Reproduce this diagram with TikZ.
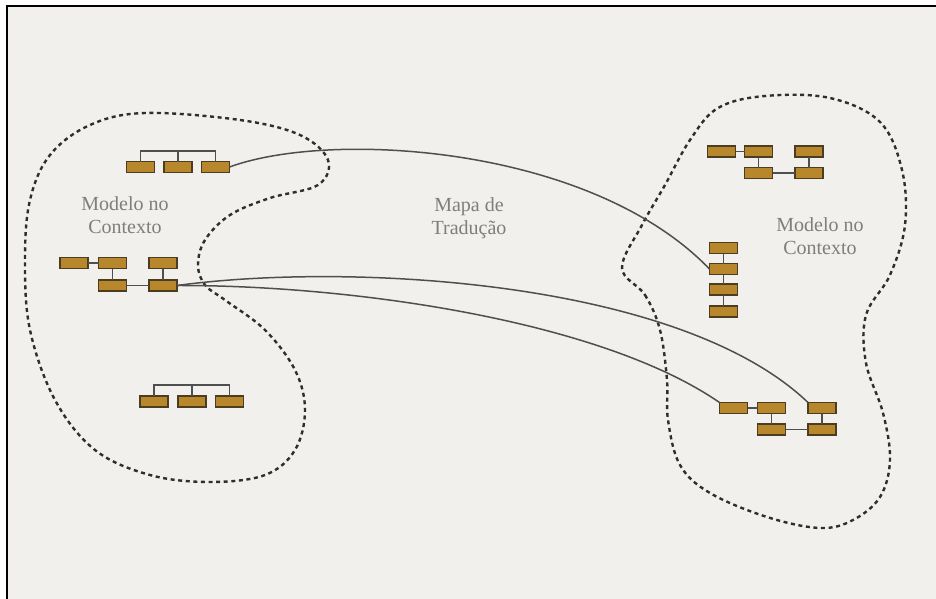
\documentclass[tikz,border=0pt]{standalone}
\usepackage{fontspec}
\setmainfont{Liberation Serif}
\definecolor{paper}{HTML}{F1F0EC}
\definecolor{boxfill}{HTML}{B8862B}
\definecolor{boxline}{HTML}{4B3D22}
\definecolor{linkgray}{HTML}{4F4F4F}
\definecolor{labelgray}{HTML}{7E7E7E}
\definecolor{dashgray}{HTML}{2E2E2E}
\begin{document}
\begin{tikzpicture}[x=1pt,y=-1pt,
  entity/.style={draw=boxline,fill=boxfill,line width=1.1pt,minimum width=28pt,minimum height=11pt,inner sep=0pt,outer sep=0pt},
  wire/.style={draw=linkgray,line width=1.8pt},
  mapping/.style={draw=linkgray,line width=1.5pt},
  boundary/.style={draw=dashgray,line width=2.4pt,dash pattern=on 4pt off 3.6pt},
  caption/.style={text=labelgray,font=\fontsize{20}{23}\selectfont,align=center,inner sep=0pt}]
% canvas and frame
\useasboundingbox (0,0) rectangle (936,599);
\fill[white] (0,0) rectangle (936,599);
\fill[paper] (7,6) rectangle (936,599);
\draw[black,line width=2pt] (7,599) -- (7,6) -- (936,6);

% context boundaries
\draw[boundary] plot[smooth cycle,tension=0.6] coordinates {
 (145,113) (240,120) (300,135) (328,160) (318,185) (270,198) (230,215)
 (205,240) (198,265) (205,285) (225,300) (265,330) (295,370) (305,410)
 (295,450) (265,475) (210,482) (150,475) (95,450) (55,400) (30,330)
 (25,260) (30,200) (50,155) (90,125)};
\draw[boundary] plot[smooth cycle,tension=0.6] coordinates {
 (622,268) (645,295) (660,330) (667,380) (668,420) (680,465) (710,493)
 (767,517) (820,528) (853,520) (880,497) (890,460) (883,413) (866,363)
 (866,315) (890,275) (905,225) (902,170) (880,122) (830,98) (765,96)
 (718,108) (690,140) (665,185) (642,225)};

% labels
\node[caption] (ctxL) at (125,215) {Modelo no\\Contexto};
\node[caption] (map) at (469,218) {Mapa de\\Tradução};
\node[caption] (ctxR) at (820,236) {Modelo no\\Contexto};

% left context: upper group
\node[entity] (la1) at (140.5,167) {};
\node[entity] (la2) at (178,167) {};
\node[entity] (la3) at (215.5,167) {};
\coordinate (labar) at (178,151);
\draw[wire] (la1.north) |- (labar) -| (la3.north);
\draw[wire] (la2.north) -- (la2.north |- labar);

% left context: middle group
\node[entity] (lb1) at (74,263) {};
\node[entity] (lb2) at (112.5,263) {};
\node[entity] (lb3) at (163,263) {};
\node[entity] (lb4) at (112.5,285.5) {};
\node[entity] (lb5) at (163,285.5) {};
\draw[wire] (lb1) -- (lb2);
\draw[wire] (lb2) -- (lb4);
\draw[wire] (lb3) -- (lb5);
\draw[wire] (lb4) -- (lb5);

% left context: lower group
\node[entity] (lc1) at (154,401.5) {};
\node[entity] (lc2) at (192,401.5) {};
\node[entity] (lc3) at (229.5,401.5) {};
\coordinate (lcbar) at (192,385);
\draw[wire] (lc1.north) |- (lcbar) -| (lc3.north);
\draw[wire] (lc2.north) -- (lc2.north |- lcbar);

% right context: upper group
\node[entity] (ra1) at (721.5,151.5) {};
\node[entity] (ra2) at (758.5,151.5) {};
\node[entity] (ra3) at (809,151.5) {};
\node[entity] (ra4) at (758.5,173) {};
\node[entity] (ra5) at (809,173) {};
\draw[wire] (ra1) -- (ra2);
\draw[wire] (ra2) -- (ra4);
\draw[wire] (ra3) -- (ra5);
\draw[wire] (ra4) -- (ra5);

% right context: vertical chain
\node[entity] (rb1) at (723.5,248) {};
\node[entity] (rb2) at (723.5,269) {};
\node[entity] (rb3) at (723.5,289.5) {};
\node[entity] (rb4) at (723.5,311.5) {};
\draw[wire] (rb1) -- (rb2);
\draw[wire] (rb2) -- (rb3);
\draw[wire] (rb3) -- (rb4);

% right context: lower group
\node[entity] (rc1) at (733.5,408) {};
\node[entity] (rc2) at (771.5,408) {};
\node[entity] (rc3) at (822,408) {};
\node[entity] (rc4) at (771.5,429.5) {};
\node[entity] (rc5) at (822,429.5) {};
\draw[wire] (rc1) -- (rc2);
\draw[wire] (rc2) -- (rc4);
\draw[wire] (rc3) -- (rc5);
\draw[wire] (rc4) -- (rc5);

% translation map connections
\draw[mapping] (la3.east) .. controls (330,130) and (590,145) .. (rb2.west);
\draw[mapping] (lb5.east) .. controls (350,262) and (680,280) .. (rc3.north west);
\draw[mapping] (lb5.east) .. controls (350,285) and (600,320) .. (rc1.north west);
\end{tikzpicture}
\end{document}
